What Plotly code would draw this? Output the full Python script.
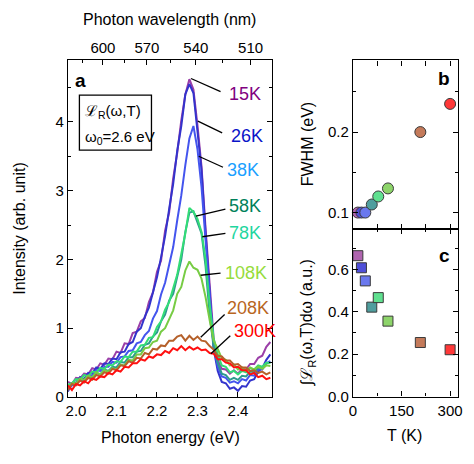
import plotly.graph_objects as go

# ---------------- data ----------------
energy_ev = [1.98, 1.99, 2.00, 2.01, 2.02, 2.03, 2.04, 2.05, 2.06, 2.07, 2.08, 2.09,
             2.10, 2.11, 2.12, 2.13, 2.14, 2.15, 2.16, 2.17, 2.18, 2.19, 2.20, 2.21,
             2.22, 2.23, 2.24, 2.25, 2.26, 2.27, 2.28, 2.29, 2.30, 2.31, 2.32, 2.33,
             2.34, 2.35, 2.36, 2.37, 2.38, 2.39, 2.40, 2.41, 2.42, 2.43, 2.44, 2.45,
             2.46, 2.47, 2.48]

pl_15K = [0.22, 0.19, 0.28, 0.27, 0.34, 0.33, 0.42, 0.40, 0.49, 0.47, 0.56, 0.55,
          0.66, 0.64, 0.78, 0.77, 0.93, 0.95, 1.10, 1.15, 1.38, 1.52, 1.82, 1.98,
          2.42, 2.68, 3.18, 3.55, 4.02, 4.40, 4.62, 4.47, 3.95, 3.35, 2.45, 1.62,
          0.85, 0.54, 0.41, 0.40, 0.34, 0.39, 0.34, 0.41, 0.40, 0.48, 0.48, 0.57,
          0.60, 0.73, 0.80]
pl_26K = [0.08, 0.20, 0.21, 0.29, 0.26, 0.35, 0.34, 0.43, 0.41, 0.49, 0.48, 0.56,
          0.55, 0.65, 0.66, 0.77, 0.80, 0.95, 1.00, 1.17, 1.30, 1.53, 1.74, 2.03,
          2.34, 2.73, 3.10, 3.58, 3.94, 4.40, 4.55, 4.42, 3.90, 3.30, 2.38, 1.50,
          0.70, 0.38, 0.22, 0.20, 0.12, 0.14, 0.09, 0.16, 0.15, 0.24, 0.26, 0.37,
          0.42, 0.54, 0.62]
pl_38K = [0.10, 0.17, 0.18, 0.26, 0.24, 0.32, 0.31, 0.39, 0.38, 0.44, 0.44, 0.51,
          0.50, 0.58, 0.59, 0.67, 0.68, 0.78, 0.80, 0.90, 0.96, 1.14, 1.25, 1.49,
          1.66, 1.94, 2.18, 2.57, 2.93, 3.37, 3.76, 3.94, 3.60, 3.05, 2.30, 1.45,
          0.72, 0.44, 0.30, 0.28, 0.21, 0.23, 0.20, 0.26, 0.24, 0.32, 0.31, 0.40,
          0.40, 0.49, 0.52]
pl_58K = [0.13, 0.20, 0.18, 0.26, 0.23, 0.30, 0.28, 0.35, 0.33, 0.40, 0.38, 0.44,
          0.43, 0.51, 0.50, 0.58, 0.58, 0.66, 0.67, 0.76, 0.78, 0.88, 0.94, 1.10,
          1.20, 1.40, 1.50, 1.77, 2.00, 2.40, 2.68, 2.70, 2.53, 2.38, 1.90, 1.20,
          0.72, 0.50, 0.34, 0.32, 0.25, 0.28, 0.25, 0.31, 0.30, 0.37, 0.36, 0.43,
          0.42, 0.49, 0.50]
pl_78K = [0.18, 0.20, 0.26, 0.25, 0.32, 0.30, 0.37, 0.36, 0.42, 0.41, 0.47, 0.46,
          0.52, 0.51, 0.59, 0.58, 0.66, 0.66, 0.75, 0.76, 0.86, 0.87, 1.02, 1.10,
          1.27, 1.38, 1.58, 1.78, 2.08, 2.38, 2.75, 2.69, 2.59, 2.40, 2.00, 1.35,
          0.85, 0.62, 0.46, 0.44, 0.36, 0.38, 0.33, 0.38, 0.36, 0.42, 0.40, 0.46,
          0.44, 0.50, 0.50]
pl_108K = [0.12, 0.20, 0.20, 0.27, 0.25, 0.31, 0.29, 0.36, 0.33, 0.39, 0.37, 0.42,
           0.40, 0.47, 0.46, 0.54, 0.53, 0.62, 0.62, 0.71, 0.72, 0.80, 0.82, 0.95,
           1.00, 1.14, 1.26, 1.50, 1.60, 1.84, 1.97, 1.88, 1.85, 1.72, 1.45, 1.12,
           0.82, 0.70, 0.56, 0.54, 0.46, 0.47, 0.40, 0.43, 0.38, 0.43, 0.40, 0.44,
           0.41, 0.46, 0.45]
pl_208K = [0.10, 0.19, 0.17, 0.24, 0.21, 0.28, 0.25, 0.32, 0.30, 0.36, 0.34, 0.41,
           0.39, 0.46, 0.45, 0.52, 0.50, 0.57, 0.56, 0.64, 0.62, 0.70, 0.69, 0.75,
           0.74, 0.82, 0.82, 0.88, 0.90, 0.82, 0.89, 0.83, 0.88, 0.82, 0.81, 0.74,
           0.69, 0.60, 0.59, 0.53, 0.53, 0.47, 0.48, 0.43, 0.43, 0.38, 0.39, 0.35,
           0.37, 0.33, 0.36]
pl_300K = [0.17, 0.10, 0.19, 0.17, 0.23, 0.20, 0.27, 0.25, 0.30, 0.29, 0.35, 0.33,
           0.39, 0.37, 0.44, 0.43, 0.49, 0.49, 0.55, 0.53, 0.59, 0.57, 0.62, 0.61,
           0.67, 0.64, 0.71, 0.68, 0.74, 0.68, 0.73, 0.69, 0.72, 0.68, 0.69, 0.64,
           0.63, 0.55, 0.55, 0.50, 0.49, 0.43, 0.44, 0.39, 0.39, 0.33, 0.35, 0.29,
           0.31, 0.26, 0.28]

temp_labels = ["15K", "26K", "38K", "58K", "78K", "108K", "208K", "300K"]
temperature_K = [15, 26, 38, 58, 78, 108, 208, 300]
fwhm_ev = [0.100, 0.100, 0.100, 0.110, 0.120, 0.130, 0.200, 0.235]
integrated = [0.665, 0.608, 0.546, 0.422, 0.467, 0.356, 0.255, 0.221]

wavelength_ticks_nm = [600, 570, 540, 510]
wavelength_minor_nm = [615, 585, 555, 525]

# ---------------- styles ----------------
spectra = [pl_15K, pl_26K, pl_38K, pl_58K, pl_78K, pl_108K, pl_208K, pl_300K]
line_colors = ["#9b3fa8", "#3333cc", "#4455ee", "#2e9a8e", "#33dd77", "#77cc44", "#b5602a", "#ff1010"]
text_colors = ["#800080", "#0a14c8", "#1aa0ff", "#00805a", "#1fd6a0", "#96dc3c", "#b8661e", "#ff0000"]
marker_fill = ["#b065b0", "#4f4fd8", "#6a78ee", "#4f9e9e", "#5fe08f", "#8dd46a", "#c47a5a", "#ff3838"]

# label positions (energy, intensity) and pointer segment endpoints
label_pos = [(2.374, 4.40), (2.379, 3.79), (2.367, 3.30), (2.374, 2.77),
             (2.374, 2.39), (2.364, 1.81), (2.369, 1.30), (2.386, 0.96)]
pointer = [((2.284, 4.63), (2.357, 4.44)), ((2.301, 4.01), (2.361, 3.84)),
           ((2.303, 3.50), (2.363, 3.34)), ((2.296, 2.63), (2.369, 2.73)),
           ((2.312, 2.33), (2.369, 2.38)), ((2.308, 1.77), (2.357, 1.80)),
           ((2.308, 0.87), (2.367, 1.20)), ((2.333, 0.63), (2.381, 0.89))]

FONT = "Liberation Sans, Arial, sans-serif"
W, H = 474, 464


def px(x):
    return x / W


def py(y):
    return 1 - y / H


fig = go.Figure()

for s, c, name in zip(spectra, line_colors, temp_labels):
    fig.add_trace(go.Scatter(x=energy_ev, y=s, mode="lines", name=name,
                             line=dict(color=c, width=2), xaxis="x", yaxis="y",
                             showlegend=False))

# dummy trace for top axis
fig.add_trace(go.Scatter(x=[2.0], y=[0], mode="markers", marker=dict(opacity=0),
                         xaxis="x2", yaxis="y", showlegend=False, hoverinfo="skip"))

fig.add_trace(go.Scatter(x=temperature_K, y=fwhm_ev, mode="markers", xaxis="x3", yaxis="y3",
                         marker=dict(symbol="circle", size=11, color=marker_fill,
                                     line=dict(color="#3a3a3a", width=1)),
                         cliponaxis=False, showlegend=False))
fig.add_trace(go.Scatter(x=temperature_K, y=integrated, mode="markers", xaxis="x4", yaxis="y4",
                         marker=dict(symbol="square", size=10, color=marker_fill,
                                     line=dict(color="#3a3a3a", width=1)),
                         cliponaxis=False, showlegend=False))

axis_common = dict(showline=True, linecolor="black", linewidth=1.3, ticks="inside",
                   tickcolor="black", tickwidth=1.2, ticklen=5, showgrid=False,
                   zeroline=False, tickfont=dict(family=FONT, size=15, color="black"))

xa = (65, 273)
ya = (61, 404)
xb = (355, 462)
yb = (61.5, 233)
yc = (233, 403.5)

e_major = [1239.84 / w for w in wavelength_ticks_nm]
e_minor = [1239.84 / w for w in wavelength_minor_nm]

fig.update_layout(
    width=W, height=H, margin=dict(l=0, r=0, t=0, b=0),
    paper_bgcolor="white", plot_bgcolor="white",
    font=dict(family=FONT, color="black"),
    xaxis=dict(domain=[px(xa[0]), px(xa[1])], range=[1.98, 2.485], anchor="y",
               tickvals=[2.0, 2.1, 2.2, 2.3, 2.4], ticktext=["2.0", "2.1", "2.2", "2.3", "2.4"],
               minor=dict(tickvals=[1.95, 2.05, 2.15, 2.25, 2.35, 2.45], ticks="inside",
                          ticklen=3, tickcolor="black", tickwidth=1.2),
               **axis_common),
    xaxis2=dict(domain=[px(xa[0]), px(xa[1])], range=[1.98, 2.485], overlaying="x",
                side="top", anchor="y", tickvals=e_major,
                ticktext=[str(w) for w in wavelength_ticks_nm],
                minor=dict(tickvals=e_minor, ticks="inside", ticklen=3,
                           tickcolor="black", tickwidth=1.2),
                **axis_common),
    yaxis=dict(domain=[py(ya[1]), py(ya[0])], range=[0, 4.9], anchor="x",
               tickvals=[0, 1, 2, 3, 4], mirror="ticks",
               minor=dict(tickvals=[0.5, 1.5, 2.5, 3.5, 4.5], ticks="inside", ticklen=3,
                          tickcolor="black", tickwidth=1.2),
               **axis_common),
    xaxis3=dict(domain=[px(xb[0]), px(xb[1])], range=[0, 325], anchor="y3",
                tickvals=[0, 150, 300], showticklabels=False, mirror="ticks",
                minor=dict(tickvals=[75, 225], ticks="inside", ticklen=5,
                           tickcolor="black", tickwidth=1.2),
                **axis_common),
    yaxis3=dict(domain=[py(yb[1]), py(yb[0])], range=[0.0796, 0.289], anchor="x3",
                tickvals=[0.1, 0.2], ticktext=["0.1", "0.2"], mirror="ticks",
                minor=dict(tickvals=[0.15, 0.25], ticks="inside", ticklen=3,
                           tickcolor="black", tickwidth=1.2),
                **axis_common),
    xaxis4=dict(domain=[px(xb[0]), px(xb[1])], range=[0, 325], anchor="y4",
                tickvals=[0, 150, 300], mirror="ticks",
                minor=dict(tickvals=[75, 225], ticks="inside", ticklen=3,
                           tickcolor="black", tickwidth=1.2),
                **axis_common),
    yaxis4=dict(domain=[py(yc[1]), py(yc[0])], range=[0, 0.791], anchor="x4",
                tickvals=[0, 0.2, 0.4, 0.6], ticktext=["0.0", "0.2", "0.4", "0.6"],
                mirror="ticks",
                minor=dict(tickvals=[0.1, 0.3, 0.5, 0.7], ticks="inside", ticklen=3,
                           tickcolor="black", tickwidth=1.2),
                **axis_common),
)

annotations = []
shapes = []

# pointer lines and temperature labels
for (p0, p1), (lx, ly), lab, tc in zip(pointer, label_pos, temp_labels, text_colors):
    shapes.append(dict(type="line", xref="x", yref="y", x0=p0[0], y0=p0[1], x1=p1[0], y1=p1[1],
                       line=dict(color="black", width=1.3)))
    annotations.append(dict(xref="x", yref="y", x=lx, y=ly, text=lab, showarrow=False,
                            xanchor="left", yanchor="middle",
                            font=dict(family=FONT, size=18, color=tc)))

# box with model text
shapes.append(dict(type="rect", xref="paper", yref="paper", x0=px(76.7), x1=px(150),
                   y0=py(152.7), y1=py(96.7), line=dict(color="black", width=1.3)))
annotations.append(dict(xref="paper", yref="paper", x=px(80), y=py(113), xanchor="left",
                        yanchor="middle", showarrow=False,
                        text="ℒ<sub>R</sub>(ω,T)", font=dict(family=FONT, size=15)))
annotations.append(dict(xref="paper", yref="paper", x=px(80), y=py(140), xanchor="left",
                        yanchor="middle", showarrow=False,
                        text="ω<sub>0</sub>=2.6 eV", font=dict(family=FONT, size=15)))

# panel letters
for t, x, y in [("a", 78, 82), ("b", 448, 80), ("c", 448, 260)]:
    annotations.append(dict(xref="paper", yref="paper", x=px(x), y=py(y), showarrow=False,
                            xanchor="center", yanchor="middle", text="<b>%s</b>" % t,
                            font=dict(family=FONT, size=19)))

# axis titles
titles = [
    ("Photon wavelength (nm)", 168, 20, 0),
    ("Photon energy (eV)", 169, 445, 0),
    ("Intensity (arb. unit)", 15, 232, -90),
    ("FWHM (eV)", 309, 147, -90),
    ("∫ℒ<sub>R</sub>(ω,T)dω (a.u.)", 309, 328, -90),
    ("T (K)", 407, 443, 0),
]
for t, x, y, ang in titles:
    annotations.append(dict(xref="paper", yref="paper", x=px(x), y=py(y), showarrow=False,
                            xanchor="center", yanchor="middle", text=t, textangle=ang,
                            font=dict(family=FONT, size=16)))

fig.update_layout(annotations=annotations, shapes=shapes)
fig.write_html("out.html", config={"displayModeBar": False},
               post_script="document.body.style.margin='0';document.body.style.overflow='hidden';")
